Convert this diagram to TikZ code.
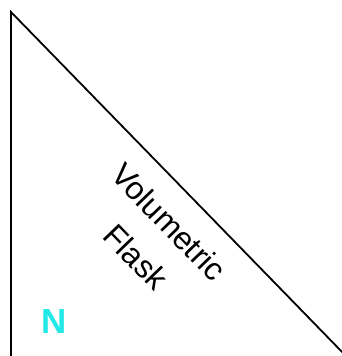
\documentclass[tikz,border=0pt]{standalone}
\usepackage{fontspec}
\setmainfont{Liberation Sans}
\definecolor{ncyan}{RGB}{35,232,232}
\begin{document}
\begin{tikzpicture}[x=1bp,y=-1bp,
  edge/.style={line width=1.8bp,black},
  lbl/.style={font=\fontsize{32}{34}\selectfont,inner sep=0pt,rotate=-46}]
\useasboundingbox[fill=white] (0,0) rectangle (342,356);
\coordinate (top) at (11,12);
\coordinate (bot) at (11,360);
\coordinate (rgt) at (346,356);
\draw[edge,line join=miter] (bot) -- (top) -- (rgt);
\node[lbl] (vol) at (169,222) {Volumetric};
\node[lbl] (fl) at (136,257) {Flask};
\node[inner sep=0pt,text=ncyan,font=\fontsize{35}{36}\selectfont\bfseries] (n) at (54,322) {N};
\end{tikzpicture}
\end{document}
